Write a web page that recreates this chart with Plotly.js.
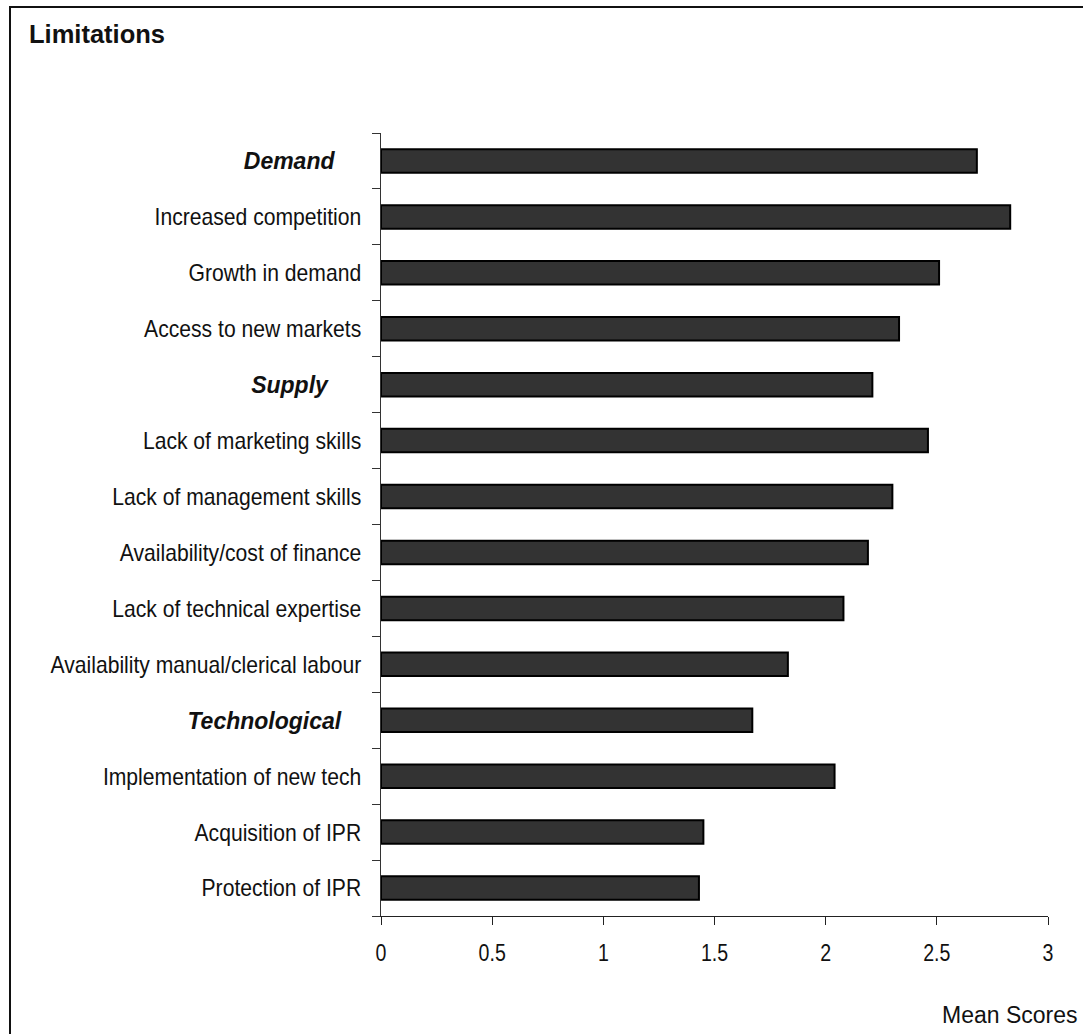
<!DOCTYPE html>
<html>
<head>
<meta charset="utf-8">
<script src="https://cdn.plot.ly/plotly-3.0.1.min.js"></script>
<style>
  html, body { margin: 0; padding: 0; background: #fff; }
  #chart { width: 1083px; height: 1034px; }
</style>
</head>
<body>
<div id="chart"></div>
<script>
const categories = [
  "Demand",
  "Increased competition",
  "Growth in demand",
  "Access to new markets",
  "Supply",
  "Lack of marketing skills",
  "Lack of management skills",
  "Availability/cost of finance",
  "Lack of technical expertise",
  "Availability manual/clerical labour",
  "Technological",
  "Implementation of new tech",
  "Acquisition of IPR",
  "Protection of IPR"
];
const meanScores = [2.68, 2.83, 2.51, 2.33, 2.21, 2.46, 2.30, 2.19, 2.08, 1.83, 1.67, 2.04, 1.45, 1.43];
const groupHeaders = ["Demand", "Supply", "Technological"];
const headerPad = {"Demand": 4, "Supply": 5, "Technological": 3};
const xTickVals = [0, 0.5, 1, 1.5, 2, 2.5, 3];
const xTickText = ["0", "0.5", "1", "1.5", "2", "2.5", "3"];

const FONT = "'Liberation Sans', Arial, sans-serif";

const tickText = categories.map(c => {
  if (groupHeaders.includes(c)) {
    return '<span style="font-size:23px"><b><i>' + c + '</i></b></span>' + '\u00a0'.repeat(headerPad[c]);
  }
  return c;
});

const W = 1083, H = 1034;
const L = 381, R = 35, T = 133, B = 118;
const pw = W - L - R, ph = H - T - B;
const px = x => (x - L) / pw;
const py = y => (H - B - y) / ph;

const trace = {
  type: 'bar',
  orientation: 'h',
  x: meanScores,
  y: categories,
  width: 0.42,
  marker: { color: '#333333', line: { color: '#000000', width: 2 } },
  hoverinfo: 'x+y'
};

const layout = {
  width: W, height: H,
  margin: { l: L, r: R, t: T, b: B, pad: 0 },
  paper_bgcolor: '#ffffff',
  plot_bgcolor: '#ffffff',
  showlegend: false,
  font: { family: FONT, size: 24, color: '#111111' },
  xaxis: {
    range: [0, 3],
    tickvals: xTickVals,
    ticktext: xTickText,
    ticks: 'outside', ticklen: 8, tickcolor: '#222', tickwidth: 1,
    showline: true, linecolor: '#222', linewidth: 1,
    showgrid: false, zeroline: false,
    tickfont: { family: FONT, size: 23, color: '#111' },
    ticklabelstandoff: 8,
    fixedrange: true
  },
  yaxis: {
    type: 'category',
    categoryorder: 'array',
    categoryarray: categories,
    autorange: 'reversed',
    tickvals: categories,
    ticktext: tickText,
    tickson: 'boundaries',
    ticks: 'outside', ticklen: 8, tickcolor: '#333', tickwidth: 1,
    showline: true, linecolor: '#333', linewidth: 1,
    showgrid: false, zeroline: false,
    tickfont: { family: FONT, size: 24, color: '#111' },
    ticklabelstandoff: 14,
    fixedrange: true
  },
  annotations: [
    {
      xref: 'paper', yref: 'paper',
      x: px(27), y: py(34),
      xanchor: 'left', yanchor: 'middle',
      text: 'Limitations',
      showarrow: false,
      font: { family: FONT, size: 25.5, color: '#111', weight: 'bold' }
    },
    {
      xref: 'paper', yref: 'paper',
      x: px(1080), y: py(1015),
      xanchor: 'right', yanchor: 'middle',
      text: 'Mean Scores',
      showarrow: false,
      font: { family: FONT, size: 23, color: '#111' }
    }
  ],
  shapes: [
    {
      type: 'rect', xref: 'paper', yref: 'paper', layer: 'above',
      x0: px(10), x1: px(1100), y0: py(1050), y1: py(7),
      line: { color: '#111', width: 2 }, fillcolor: 'rgba(0,0,0,0)'
    }
  ]
};

function narrow(el, ratio) {
  if (el.querySelector('tspan')) return;
  const w = el.getComputedTextLength();
  if (!w) return;
  el.setAttribute('textLength', (w * ratio).toFixed(1));
  el.setAttribute('lengthAdjust', 'spacingAndGlyphs');
}

Plotly.newPlot('chart', [trace], layout, { displayModeBar: false, staticPlot: true }).then(gd => {
  gd.querySelectorAll('.ytick text').forEach(t => narrow(t, 0.88));
  gd.querySelectorAll('.xtick text').forEach(t => narrow(t, 0.85));
});
</script>
</body>
</html>
